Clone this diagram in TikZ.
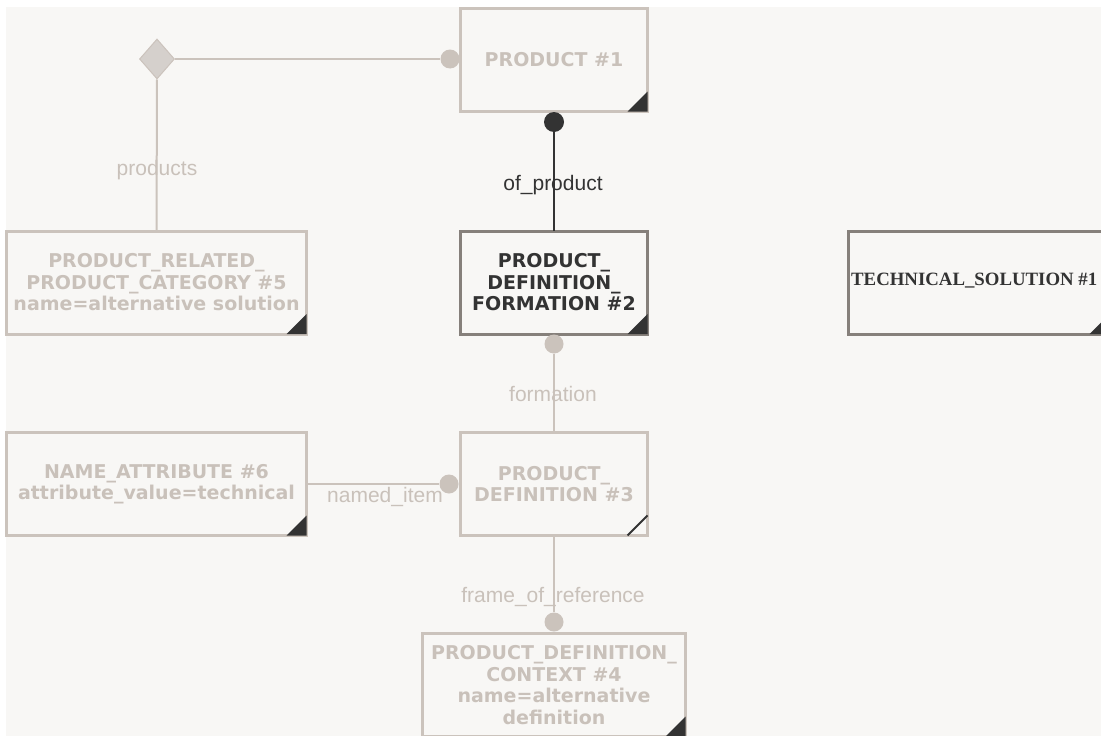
\documentclass[tikz,border=0pt]{standalone}
\usepackage{fontspec}
\setmainfont{DejaVu Sans}
\newfontfamily\labelfont{Liberation Sans}
\newfontfamily\tsfont{Liberation Serif}
\usepackage{xcolor}
\usetikzlibrary{shapes.geometric}
\definecolor{pagebg}{HTML}{F8F7F5}
\definecolor{softline}{HTML}{CBC3BC}
\definecolor{softtext}{HTML}{C9C1BA}
\definecolor{hardline}{HTML}{86807B}
\definecolor{inkdark}{HTML}{333333}
\definecolor{diafill}{HTML}{D5D0CC}

\begin{document}
\begin{tikzpicture}[x=1pt, y=-1pt,
    entitybox/.style={rectangle, draw=softline, line width=3pt, fill=pagebg, outer sep=0pt, inner sep=0pt,
        minimum width=187pt, minimum height=103pt, align=center, text=softtext,
        font=\fontsize{19}{21.5}\selectfont\bfseries},
    focusbox/.style={entitybox, draw=hardline, text=inkdark},
    relline/.style={draw=softline, line width=2pt},
    keyline/.style={draw=inkdark, line width=2pt},
    reldot/.style={circle, fill=softline, inner sep=0pt, minimum size=19pt},
    keydot/.style={reldot, fill=inkdark, minimum size=20pt},
    rolelabel/.style={anchor=base, text=softtext, font=\labelfont\fontsize{21}{23}\selectfont}]
    \useasboundingbox (0,0) rectangle (1101,736);
    \clip (0,0) rectangle (1101,736);
    \fill[pagebg] (6,7) rectangle (1101,736);

    \node[diamond, fill=diafill, draw=softline, line width=1pt, inner sep=0pt, minimum width=35pt, minimum height=40pt] (cat) at (157,59) {};
    \node[entitybox] (prod1) at (554,60) {PRODUCT \#1};
    \node[focusbox] (pdf2) at (554,282.5) {PRODUCT\_\\DEFINITION\_\\FORMATION \#2};
    \node[entitybox] (pd3) at (554,484) {PRODUCT\_\\DEFINITION \#3};
    \node[entitybox, minimum width=263pt] (pdc4) at (554,685) {PRODUCT\_DEFINITION\_\\CONTEXT \#4\\name=alternative\\definition};
    \node[entitybox, minimum width=300pt] (prpc5) at (156.5,282.5) {PRODUCT\_RELATED\_\\PRODUCT\_CATEGORY \#5\\name=alternative solution};
    \node[entitybox, minimum width=300pt] (na6) at (156.5,484) {NAME\_ATTRIBUTE \#6\\attribute\_value=technical};
    \node[focusbox, minimum width=261pt] (ts1) at (979,282.5) {};
    \node[anchor=west, inner sep=0pt, text=inkdark, font=\tsfont\bfseries\fontsize{18.8}{22}\selectfont] (tstext) at (851,281) {TECHNICAL\_SOLUTION \#1};

    \foreach \b in {prod1,pdf2,pdc4,prpc5,na6,ts1}
        \fill[inkdark] (\b.south east) -- ++(-20,0) -- ++(20,-20) -- cycle;
    \draw[inkdark, line width=2pt] ([xshift=-20pt]pd3.south east) -- ([yshift=20pt]pd3.south east);

    \node[reldot] (dprod) at (450,59) {};
    \node[keydot] (dof) at (554,122) {};
    \node[reldot] (dform) at (554,344) {};
    \node[reldot] (dnamed) at (449,484) {};
    \node[reldot] (dframe) at (554,622) {};

    \draw[relline] (cat.east) -- (dprod);
    \draw[relline] (cat.south) -- (prpc5.north);
    \draw[keyline] (dof) -- (pdf2.north);
    \draw[relline] (dform) -- (pd3.north);
    \draw[relline] (na6.east) -- (dnamed);
    \draw[relline] (pd3.south) -- (dframe);

    \node[rolelabel] (lproducts) at (157,175) {products};
    \node[rolelabel, text=inkdark] (lofproduct) at (553,190) {of\_product};
    \node[rolelabel] (lformation) at (553,401) {formation};
    \node[rolelabel] (lnamed) at (385,502) {named\_item};
    \node[rolelabel] (lframe) at (553,602) {frame\_of\_reference};
\end{tikzpicture}
\end{document}
